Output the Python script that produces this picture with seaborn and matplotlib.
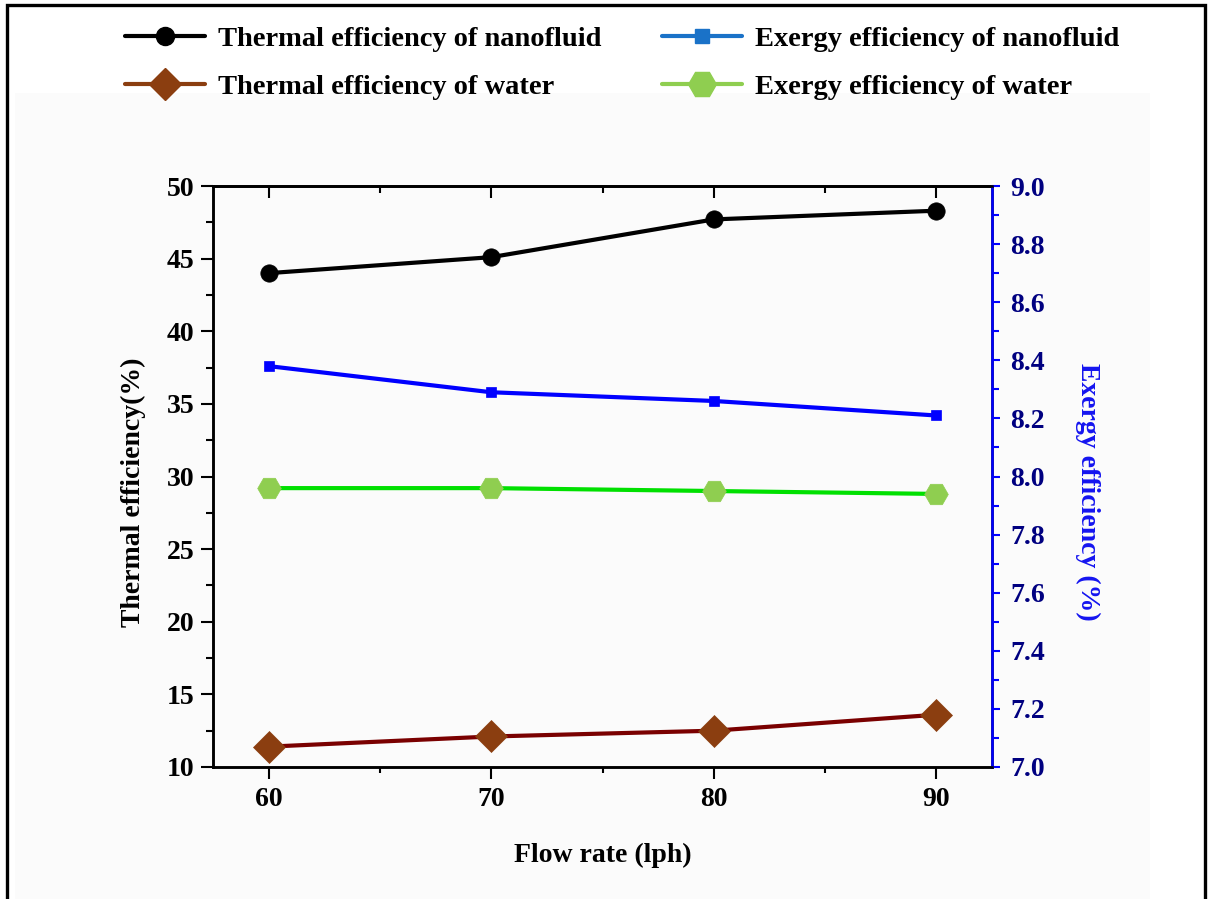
import matplotlib
matplotlib.use("Agg")
import matplotlib.pyplot as plt
from matplotlib.lines import Line2D
from matplotlib.patches import Rectangle
from matplotlib.ticker import MultipleLocator, FormatStrFormatter
import seaborn as sns
import pandas as pd

# ---- data ----
flow_rate = [60, 70, 80, 90]
thermal_nano = [44.0, 45.1, 47.7, 48.3]
thermal_water = [11.4, 12.1, 12.5, 13.6]
exergy_nano = [8.38, 8.29, 8.26, 8.21]
exergy_water = [7.96, 7.96, 7.95, 7.94]

labels = ["Thermal efficiency of nanofluid", "Exergy efficiency of nanofluid",
          "Thermal efficiency of water", "Exergy efficiency of water"]
x_ticks = [60, 70, 80, 90]

df = pd.DataFrame({"flow": flow_rate, "tn": thermal_nano, "tw": thermal_water,
                   "en": exergy_nano, "ew": exergy_water})

sns.set_style("white")
plt.rcParams["font.family"] = ["Liberation Serif", "DejaVu Serif"]
plt.rcParams["font.weight"] = "bold"
plt.rcParams["axes.labelweight"] = "bold"
for k in ("text.color", "axes.labelcolor", "xtick.color", "ytick.color", "axes.edgecolor"):
    plt.rcParams[k] = "black"

FS = 20
LFS = 20.5

fig = plt.figure(figsize=(12.12, 8.99), dpi=100, facecolor="white")

# subtle background panel and outer frame
fig.patches.append(Rectangle((15/1212, 0), (1150-15)/1212, 1-93/899, transform=fig.transFigure,
                             facecolor="#fbfbfb", edgecolor="none", zorder=-10))
fig.patches.append(Rectangle((7/1212, -0.02), (1205-7)/1212, 1.02-5/899, transform=fig.transFigure,
                             facecolor="none", edgecolor="black", linewidth=2.4, zorder=10))

ax = fig.add_axes([213/1212, 1-767/899, (992-213)/1212, (767-186)/899])
ax.set_facecolor("none")
ax2 = ax.twinx()

sns.lineplot(data=df, x="flow", y="tn", ax=ax, color="black", linewidth=3,
             marker="o", markersize=12.5, markeredgecolor="black", markerfacecolor="black",
             markeredgewidth=0.5, zorder=5)
sns.lineplot(data=df, x="flow", y="tw", ax=ax, color="#7a0000", linewidth=3,
             marker="D", markersize=16, markeredgecolor="#8b3e10", markerfacecolor="#8b3e10",
             markeredgewidth=0.5, zorder=5)
sns.lineplot(data=df, x="flow", y="en", ax=ax2, color="#0000ff", linewidth=3,
             marker="s", markersize=7.5, markeredgecolor="#0000ff", markerfacecolor="#0000ff",
             markeredgewidth=0.5, zorder=5)
sns.lineplot(data=df, x="flow", y="ew", ax=ax2, color="#00e000", linewidth=3,
             marker="H", markersize=17, markeredgecolor="#8fce50", markerfacecolor="#8fce50",
             markeredgewidth=0.5, zorder=5)

ax.set_xlim(57.5, 92.5)
ax.set_ylim(10, 50)
ax2.set_ylim(7.0, 9.0)
ax.set_xticks(x_ticks)
ax.xaxis.set_minor_locator(MultipleLocator(5))
ax.yaxis.set_major_locator(MultipleLocator(5))
ax.yaxis.set_minor_locator(MultipleLocator(2.5))
ax2.yaxis.set_major_locator(MultipleLocator(0.2))
ax2.yaxis.set_minor_locator(MultipleLocator(0.1))
ax2.yaxis.set_major_formatter(FormatStrFormatter("%.1f"))

for a in (ax, ax2):
    for s in a.spines.values():
        s.set_linewidth(1.8)
        s.set_color("black")
ax2.spines["right"].set_color("#0000ff")

ax.tick_params(axis="x", which="major", direction="out", length=8.5, width=1.5,
               labelsize=FS, pad=6, bottom=True, top=False)
ax.tick_params(axis="x", which="minor", direction="out", length=4.5, width=1.5, bottom=True, top=False)
ax.tick_params(axis="y", which="major", direction="out", length=8.5, width=1.5,
               labelsize=FS, pad=5, left=True, right=False)
ax.tick_params(axis="y", which="minor", direction="out", length=5, width=1.5, left=True, right=False)
ax2.tick_params(axis="y", which="major", direction="out", length=6, width=1.5,
                labelsize=FS, pad=7, color="#0000ff", labelcolor="#000080", right=True, left=False)
ax2.tick_params(axis="y", which="minor", direction="out", length=5, width=1.5,
                color="#0000ff", right=True, left=False)

# top ticks pointing inward
secx = ax.secondary_xaxis("top")
secx.set_xticks(x_ticks)
secx.xaxis.set_minor_locator(MultipleLocator(5))
secx.tick_params(which="major", direction="in", length=8.5, width=1.5, labeltop=False)
secx.tick_params(which="minor", direction="in", length=5, width=1.5)
secx.spines["top"].set_linewidth(1.8)

for lab in ax.get_xticklabels() + ax.get_yticklabels() + ax2.get_yticklabels():
    lab.set_fontweight("bold")

ax.set_xlabel("Flow rate (lph)", fontsize=FS, fontweight="bold", labelpad=22)
ax.set_ylabel("Thermal efficiency(%)", fontsize=FS, fontweight="bold", labelpad=15)
ax2.set_ylabel("Exergy efficiency (%)", fontsize=FS, fontweight="bold", color="#1414f0",
               rotation=270, labelpad=40)
ax.yaxis.label.set_y(0.473)
ax2.yaxis.label.set_y(0.473)

handles = [
    Line2D([], [], color="black", lw=3, marker="o", markersize=13, mfc="black", mec="black"),
    Line2D([], [], color="#8b3e10", lw=3, marker="D", markersize=16, mfc="#8b3e10", mec="#8b3e10"),
    Line2D([], [], color="#1a72c8", lw=3, marker="s", markersize=10, mfc="#1a72c8", mec="#1a72c8"),
    Line2D([], [], color="#8fce50", lw=3, marker="H", markersize=20, mfc="#8fce50", mec="#8fce50"),
]
leg_labels = [labels[0], labels[2], labels[1], labels[3]]
fig.legend(handles, leg_labels, loc="upper left", bbox_to_anchor=(125/1212, 1-26/899),
           ncol=2, frameon=False, handlelength=2.82, handletextpad=0.46,
           columnspacing=2.1, labelspacing=0.76, borderpad=0, borderaxespad=0,
           prop={"weight": "bold", "size": LFS})

fig.savefig("out.png", dpi=100, facecolor="white")
